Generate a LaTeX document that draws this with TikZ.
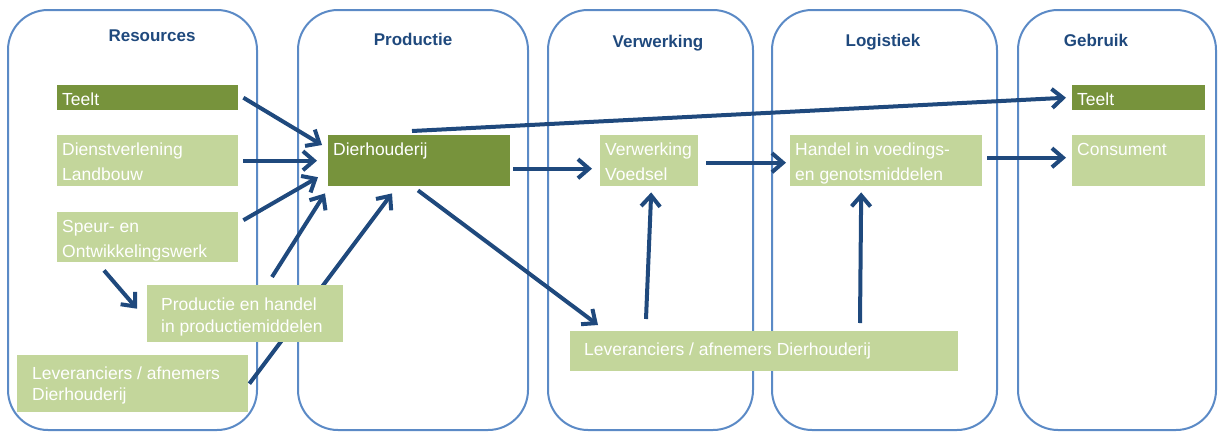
\documentclass[tikz,border=0pt]{standalone}
\usepackage{fontspec}
\setmainfont{Liberation Sans}
\usetikzlibrary{arrows.meta}
\definecolor{colline}{HTML}{5B8AC6}
\definecolor{dkgreen}{HTML}{77933C}
\definecolor{ltgreen}{HTML}{C3D69B}
\definecolor{arrblue}{HTML}{1F497D}
\definecolor{titleblue}{HTML}{1F497D}
% width, height, left pad, first baseline, line skip, text
\newcommand{\cellbox}[6]{\parbox[c][#2pt][t]{#1pt}{\raggedright\leftskip=#3pt\fontsize{17.5}{#5}\selectfont\rule{0pt}{#4pt}#6}}
\tikzset{
  colbox/.style={draw=colline, line width=2pt, rounded corners=40pt},
  coltitle/.style={anchor=base, text=titleblue, font=\bfseries\fontsize{17}{20}\selectfont},
  dkbox/.style={fill=dkgreen, text=white, inner sep=0pt, anchor=north west},
  ltbox/.style={fill=ltgreen, text=white, inner sep=0pt, anchor=north west},
  arr/.style={draw=arrblue, line width=4pt, -{Straight Barb[length=11pt,width=19pt]}},
}
\begin{document}
\begin{tikzpicture}[x=1pt,y=-1pt]
\useasboundingbox (0,0) rectangle (1219,432);
% columns
\draw[colbox] (8,10) rectangle (257,430);
\draw[colbox] (298,10) rectangle (528,430);
\draw[colbox] (548,10) rectangle (753,430);
\draw[colbox] (772,10) rectangle (997,430);
\draw[colbox] (1018,10) rectangle (1216,430);
\node[coltitle] (tres) at (152,41) {Resources};
\node[coltitle] (tprod) at (413,45) {Productie};
\node[coltitle] (tverw) at (658,47) {Verwerking};
\node[coltitle] (tlog) at (883,46) {Logistiek};
\node[coltitle] (tgeb) at (1096,46) {Gebruik};
% boxes
\node[dkbox] (teeltL) at (57,85) {\cellbox{181}{25}{5}{20}{25}{Teelt}};
\node[ltbox] (dl) at (57,135) {\cellbox{181}{51}{5}{20}{25}{Dienstverlening\\Landbouw}};
\node[ltbox] (speur) at (57,212) {\cellbox{181}{50}{5}{20}{25}{Speur- en\\Ontwikkelingswerk}};
\node[ltbox] (levL) at (17,355) {\cellbox{231}{57}{15}{24}{21}{Leveranciers / afnemers\\Dierhouderij}};
\node[dkbox] (dh) at (328,135) {\cellbox{182}{51}{5}{20}{25}{Dierhouderij}};
% arrow passing behind the "Productie en handel" box
\draw[arr] ([shift={(1,0)}]levL.east) -- ([shift={(64,7)}]dh.south west);
\node[ltbox] (peh) at (147,285) {\cellbox{196}{57}{14}{25}{22}{Productie en handel\\in productiemiddelen}};
\node[ltbox] (vv) at (600,135) {\cellbox{98}{51}{5}{20}{25}{Verwerking\\Voedsel}};
\node[ltbox] (hv) at (790,135) {\cellbox{192}{51}{5}{20}{25}{Handel in voedings-\\en genotsmiddelen}};
\node[dkbox] (teeltR) at (1072,85) {\cellbox{133}{25}{5}{20}{25}{Teelt}};
\node[ltbox] (cons) at (1072,135) {\cellbox{133}{51}{5}{20}{25}{Consument}};
\node[ltbox] (levB) at (570,331) {\cellbox{388}{40}{14}{24}{25}{Leveranciers / afnemers Dierhouderij}};
% arrows
\draw[arr] ([shift={(5,0)}]teeltL.east) -- ([shift={(-6,10)}]dh.north west);
\draw[arr] ([shift={(5,0)}]dl.east) -- ([shift={(-11,0)}]dh.west);
\draw[arr] ([shift={(5,-17)}]speur.east) -- ([shift={(-10,16.5)}]dh.west);
\draw[arr] ([shift={(125,-8)}]peh.north west) -- ([shift={(-3,7)}]dh.south west);
\draw[arr] ([shift={(47,8)}]speur.south west) -- ([shift={(-10,-5)}]peh.west);
\draw[arr] ([shift={(84,-4)}]dh.north west) -- ([shift={(-6,0)}]teeltR.west);
\draw[arr] ([shift={(3,8)}]dh.east) -- ([shift={(-8,8)}]vv.west);
\draw[arr] ([shift={(90,4)}]dh.south west) -- ([shift={(28,-6)}]levB.north west);
\draw[arr] ([shift={(8,2)}]vv.east) -- ([shift={(-4,2)}]hv.west);
\draw[arr] ([shift={(5,-3)}]hv.east) -- ([shift={(-6,-3)}]cons.west);
\draw[arr] ([shift={(76,-12)}]levB.north west) -- ([shift={(2,6)}]vv.south);
\draw[arr] ([shift={(290,-8)}]levB.north west) -- ([shift={(-25,6)}]hv.south);
\end{tikzpicture}
\end{document}
